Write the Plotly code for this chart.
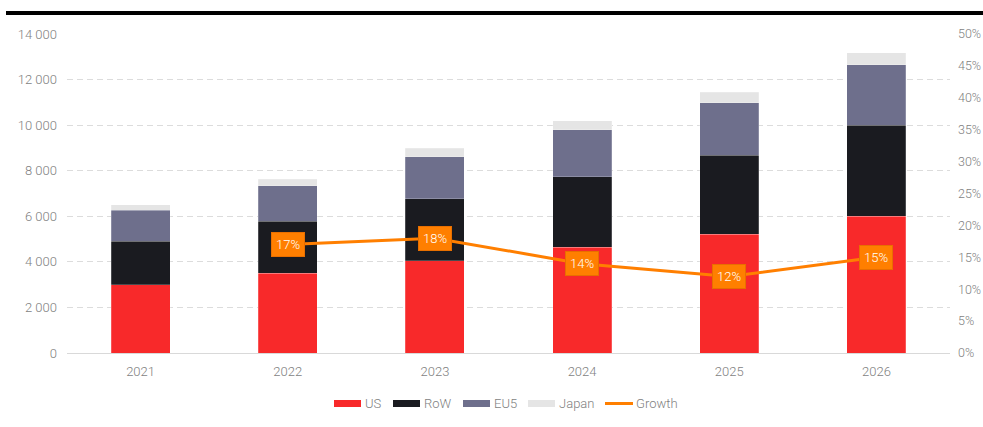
import plotly.graph_objects as go

# ---- data ----
years = ["2021", "2022", "2023", "2024", "2025", "2026"]
us = [3000, 3500, 4040, 4640, 5210, 6010]
row = [1910, 2280, 2720, 3090, 3470, 3980]
eu5 = [1350, 1570, 1860, 2060, 2300, 2660]
japan = [250, 270, 370, 400, 470, 530]
growth = [None, 17, 18, 14, 12, 15]

left_ticks = [0, 2000, 4000, 6000, 8000, 10000, 12000, 14000]
left_labels = ["0", "2 000", "4 000", "6 000", "8 000", "10 000", "12 000", "14 000"]
right_ticks = list(range(0, 55, 5))
right_labels = [f"{t}%" for t in right_ticks]

series = [
    ("US", us, "#F8292A"),
    ("RoW", row, "#1A1B20"),
    ("EU5", eu5, "#6E6F8C"),
    ("Japan", japan, "#E5E5E5"),
]
ORANGE = "#FF7F00"
TEXT = "#7F7F7F"
FONT = "Roboto"

W, H = 983, 427
L, R, T, B = 67, 33, 34, 74
PW, PH = W - L - R, H - T - B


def fx(p):
    return (p - L) / PW


def fy(p):
    return (H - B - p) / PH


fig = go.Figure()
for name, vals, col in series:
    fig.add_trace(go.Bar(
        x=years, y=vals, name=name,
        marker=dict(color=col, line=dict(color="rgba(255,255,255,0.35)", width=0.6)),
        width=0.4, showlegend=False,
    ))

fig.add_trace(go.Scatter(
    x=years, y=growth, name="Growth", yaxis="y2", mode="lines",
    line=dict(color=ORANGE, width=3), showlegend=False, connectgaps=False,
))

annotations = []
for i, g in enumerate(growth):
    if g is None:
        continue
    annotations.append(dict(
        x=i, y=g, xref="x", yref="y2", text=f"{g}%", showarrow=False,
        bgcolor=ORANGE, bordercolor="#E86F00", borderwidth=1, borderpad=4,
        font=dict(family=FONT, size=13, color="white", weight=300),
    ))

# legend built from shapes and labels
shapes = [dict(type="line", xref="paper", yref="paper",
               x0=fx(6), x1=fx(983), y0=fy(13), y1=fy(13),
               line=dict(color="black", width=4))]
legend_items = [
    ("US", series[0][2], 334, "box"),
    ("RoW", series[1][2], 393, "box"),
    ("EU5", series[2][2], 463, "box"),
    ("Japan", series[3][2], 528, "box"),
    ("Growth", ORANGE, 605, "line"),
]
for name, col, x0, kind in legend_items:
    if kind == "box":
        shapes.append(dict(type="rect", xref="paper", yref="paper",
                           x0=fx(x0), x1=fx(x0 + 27), y0=fy(400), y1=fy(407),
                           fillcolor=col, line=dict(width=0)))
    else:
        shapes.append(dict(type="line", xref="paper", yref="paper",
                           x0=fx(x0), x1=fx(x0 + 28), y0=fy(403.5), y1=fy(403.5),
                           line=dict(color=col, width=3)))
    annotations.append(dict(
        x=fx(x0 + 29), y=fy(403.5), xref="paper", yref="paper", text=name,
        showarrow=False, xanchor="left", yanchor="middle",
        font=dict(family=FONT, size=13, color=TEXT, weight=300),
    ))

fig.update_layout(
    width=W, height=H, barmode="stack",
    margin=dict(l=L, r=R, t=T, b=B, autoexpand=False),
    paper_bgcolor="white", plot_bgcolor="white",
    font=dict(family=FONT, size=13, color=TEXT, weight=300),
    bargap=0.6,
    xaxis=dict(
        type="category", automargin=False,
        showgrid=False, showline=True, linecolor="#D9D9D9", linewidth=1,
        ticks="", ticklabelstandoff=6, range=[-0.5, 5.5],
        tickfont=dict(family=FONT, size=13, color=TEXT, weight=300),
    ),
    yaxis=dict(
        range=[0, 14000], tickvals=left_ticks, ticktext=left_labels,
        automargin=False,
        showgrid=True, gridcolor="#DCDCDC", griddash="6px,4px", gridwidth=1,
        zeroline=False, showline=False, ticks="", ticklabelstandoff=9,
        tickfont=dict(family=FONT, size=13, color=TEXT, weight=300),
    ),
    yaxis2=dict(
        overlaying="y", side="right", range=[0, 50],
        tickvals=right_ticks, ticktext=right_labels, automargin=False,
        showgrid=False, zeroline=False, showline=False, ticks="",
        ticklabelstandoff=7,
        tickfont=dict(family=FONT, size=12.5, color=TEXT, weight=300),
    ),
    shapes=shapes, annotations=annotations,
)

fig.write_html("out.html")
